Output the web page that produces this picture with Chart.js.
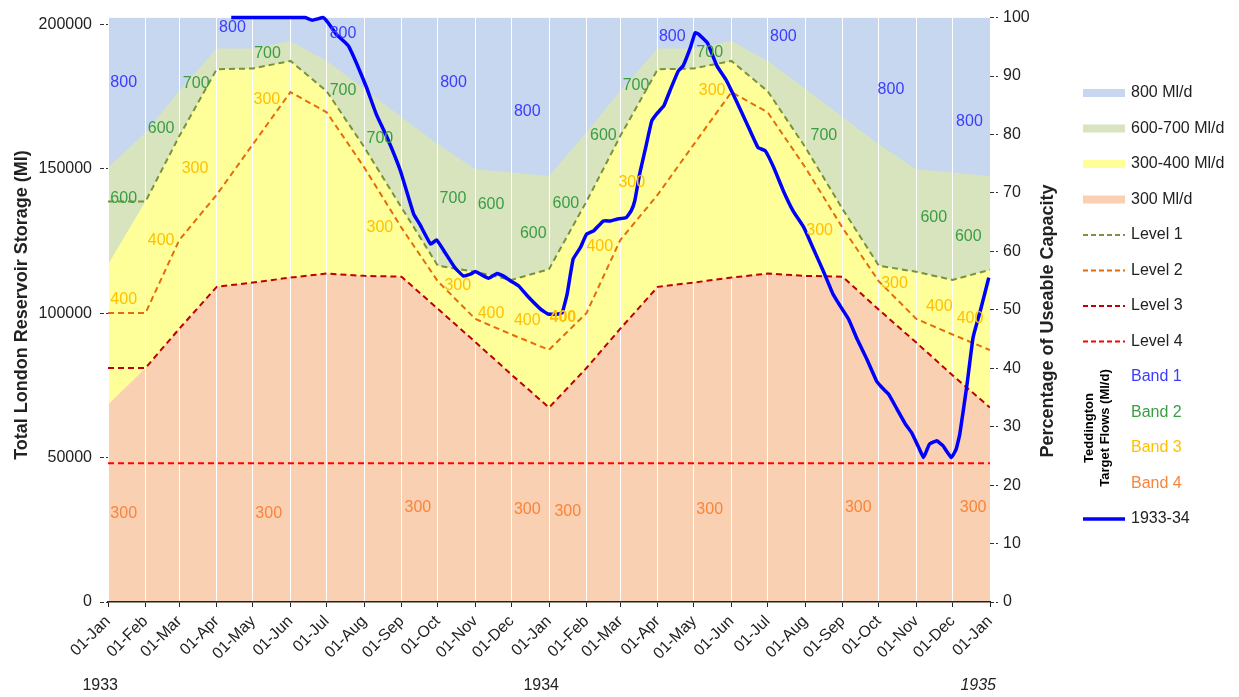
<!DOCTYPE html>
<html lang="en">
<head>
<meta charset="UTF-8">
<title>Total London Reservoir Storage 1933-34</title>
<script src="https://cdn.jsdelivr.net/npm/chart.js"></script>
<style>
  body { margin: 0; background: #fff; }
</style>
</head>
<body>
<canvas id="myChart" width="1239" height="697"></canvas>
<script>
// x axis = days since 01-Jan-1933
const monthDays = [0, 31, 59, 90, 120, 151, 181, 212, 243, 273, 304, 334,
                   365, 396, 424, 455, 485, 516, 546, 577, 608, 638, 669, 699, 730];
const monthLabels = ['01-Jan', '01-Feb', '01-Mar', '01-Apr', '01-May', '01-Jun', '01-Jul', '01-Aug',
                     '01-Sep', '01-Oct', '01-Nov', '01-Dec',
                     '01-Jan', '01-Feb', '01-Mar', '01-Apr', '01-May', '01-Jun', '01-Jul', '01-Aug',
                     '01-Sep', '01-Oct', '01-Nov', '01-Dec', '01-Jan'];
const yearDays = [0, 365, 730];
const yearLabels = ['1933', '1934', '1935'];
const storageTicks = [0, 50000, 100000, 150000, 200000];
const pctTicks = [0, 10, 20, 30, 40, 50, 60, 70, 80, 90, 100];
const capacityMl = 202300;

// flow band boundaries (Ml), one value per month start
const blueFloor = [150400, 162500, 177000, 191600, 191600, 194200, 187300, 177800, 167800, 158500, 149800, 148700,
                   147500, 162500, 177000, 191600, 191600, 194200, 187300, 177800, 167800, 158500, 149800, 148700, 147500];
const greenFloor = [116800, 138600, 161300, 184400, 184700, 187300, 176800, 157500, 136500, 116400, 114300, 111500,
                    115200, 138600, 161300, 184400, 184700, 187300, 176800, 157500, 136000, 116400, 114300, 111500, 115000];
const yellowFloor = [68300, 81000, 94600, 109100, 110600, 112300, 113700, 112900, 112600, 101500, 90000, 78700,
                     67300, 81000, 94600, 109100, 110600, 112300, 113700, 112900, 112600, 101200, 89800, 78500, 67300];

// control levels (Ml)
const level1 = [138600, 138600, 161300, 184400, 184700, 187300, 176800, 157500, 136500, 116400, 114300, 111500,
                115200, 138600, 161300, 184400, 184700, 187300, 176800, 157500, 136000, 116400, 114300, 111500, 115000];
const level2 = [100000, 100000, 125300, 141000, 158500, 176500, 169500, 150500, 129500, 111000, 98000, 92600,
                87300, 100000, 125300, 141000, 158500, 176500, 169500, 150500, 129500, 111000, 98000, 92600, 87200];
const level3 = [81000, 81000, 94600, 109100, 110600, 112300, 113700, 112900, 112600, 101500, 90000, 78700,
                67300, 81000, 94600, 109100, 110600, 112300, 113700, 112900, 112600, 101200, 89800, 78500, 67300];
const level4Days = [0, 730];
const level4 = [48000, 48000];

// 1933-34 storage (Ml)
const storageDays = [102, 163, 169, 178, 182, 189, 195, 199, 206, 214, 222, 231, 242, 253, 258, 267, 272, 278, 287, 294,
                     300, 304, 309, 315, 322, 327, 333, 340, 347, 358, 364, 373, 376, 380, 385, 391, 396, 402, 410, 416,
                     421, 429, 433, 436, 440, 445, 450, 454, 460, 465, 472, 476, 482, 486, 489, 496, 504, 512, 520, 529,
                     538, 544, 551, 559, 567, 576, 584, 592, 600, 606, 613, 620, 628, 636, 640, 646, 653, 660, 665, 671,
                     675, 678, 680, 686, 691, 698, 702, 705, 711, 716, 722, 729];
const storageMl = [202300, 202300, 201400, 202300, 200600, 196500, 194200, 192500, 186200, 178100,
                   168900, 160800, 149300, 134300, 130800, 123900, 125300, 121600, 115800, 112900,
                   113500, 114400, 113300, 112100, 113700, 112900, 111200, 109400, 106000, 101400,
                   99700, 99700, 100200, 106600, 118700, 122700, 127300, 128500, 131900, 131900,
                   132500, 133100, 135400, 138900, 148100, 157300, 166500, 168900, 171700, 176900,
                   183800, 185600, 191900, 197100, 196500, 193600, 185600, 180400, 173500, 165400,
                   157300, 156200, 150400, 142300, 135400, 129600, 122100, 114600, 106600, 102500,
                   97900, 91000, 84100, 76600, 74500, 72000, 66800, 61600, 58700, 53500,
                   50000, 52900, 54700, 55800, 54100, 50000, 52900, 58100, 75400, 91600, 100800, 112300];

// Teddington target flow labels: [day, Ml, text, bold]
const band1Labels = [[13, 179800, '800'], [103, 198700, '800'], [194.5, 196600, '800'], [286, 179800, '800'],
                     [347, 169700, '800'], [467, 195600, '800'], [559, 195600, '800'], [648, 177300, '800'],
                     [713, 166200, '800']];
const band2Labels = [[13, 139600, '600'], [44, 163800, '600'], [73, 179400, '700'], [132, 189800, '700'],
                     [194.5, 177000, '700'], [225, 160300, '700'], [285.5, 139600, '700'], [317, 137500, '600'],
                     [352, 127500, '600'], [379, 137800, '600'], [410, 161300, '600'], [437, 178700, '700'],
                     [498, 190100, '700'], [592.5, 161300, '700'], [683.5, 132900, '600'], [712, 126400, '600']];
const band3Labels = [[13, 104600, '400'], [44, 125000, '400'], [72, 150000, '300'], [131.5, 173800, '300'],
                     [225, 129500, '300'], [289.5, 109400, '300'], [317, 99700, '400'], [347, 97300, '400'],
                     [376.5, 98300, '400', true], [407, 122900, '400'], [433.5, 145100, '300'], [500, 176900, '300'],
                     [589, 128500, '300'], [651, 110100, '300'], [688, 102200, '400'], [713.5, 98000, '400']];
const band4Labels = [[13, 30600, '300'], [133, 30600, '300'], [256.5, 32600, '300'], [347, 31900, '300'],
                     [380.5, 31200, '300'], [498, 31900, '300'], [621, 32600, '300'], [716, 32600, '300']];

const FONT = '"Liberation Sans", Arial, sans-serif';
const TEXT = '#222222';
const C = {
    blue: '#C6D7EF', green: '#D7E4BD', yellow: '#FFFF99', peach: '#F9D0B2',
    l1: '#77933C', l2: '#E46C0A', l3: '#C00000', l4: '#FF0000',
    b1: '#3C3CFF', b2: '#3A9D44', b3: '#FFC000', b4: '#F9843A', storage: '#0000FF'
};

const pts = (xs, ys) => ys.map((v, i) => ({ x: xs[i], y: v }));

function area(data, color, order) {
    return { data, backgroundColor: color, borderWidth: 0, pointRadius: 0, fill: 'origin', order };
}
function level(data, color) {
    return { data, borderColor: color, borderWidth: 2, borderDash: [6, 4], pointRadius: 0, fill: false, order: 2 };
}

const bandLabelSets = [
    { labels: band1Labels, color: C.b1 },
    { labels: band2Labels, color: C.b2 },
    { labels: band3Labels, color: C.b3 },
    { labels: band4Labels, color: C.b4 }
];

const legendItems = [
    { kind: 'box', color: C.blue, text: '800 Ml/d' },
    { kind: 'box', color: C.green, text: '600-700 Ml/d' },
    { kind: 'box', color: C.yellow, text: '300-400 Ml/d' },
    { kind: 'box', color: C.peach, text: '300 Ml/d' },
    { kind: 'dash', color: C.l1, text: 'Level 1' },
    { kind: 'dash', color: C.l2, text: 'Level 2' },
    { kind: 'dash', color: C.l3, text: 'Level 3' },
    { kind: 'dash', color: C.l4, text: 'Level 4' },
    { kind: 'text', color: C.b1, text: 'Band 1' },
    { kind: 'text', color: C.b2, text: 'Band 2' },
    { kind: 'text', color: C.b3, text: 'Band 3' },
    { kind: 'text', color: C.b4, text: 'Band 4' },
    { kind: 'line', color: C.storage, text: '1933-34' }
];

function vText(ctx, str, x, y, font) {
    ctx.save();
    ctx.translate(x, y);
    ctx.rotate(-Math.PI / 2);
    ctx.font = font;
    ctx.textAlign = 'center';
    ctx.textBaseline = 'middle';
    ctx.fillText(str, 0, 0);
    ctx.restore();
}

const decor = {
    id: 'decor',
    afterDatasetsDraw(chart) {
        const { ctx, scales: { x, y } } = chart;
        ctx.save();
        ctx.textAlign = 'center';
        ctx.textBaseline = 'middle';
        bandLabelSets.forEach(set => {
            ctx.fillStyle = set.color;
            set.labels.forEach(l => {
                ctx.font = (l[3] ? 'bold ' : '') + '16px ' + FONT;
                ctx.fillText(l[2], x.getPixelForValue(l[0]), y.getPixelForValue(l[1]));
            });
        });
        ctx.restore();
    },
    afterDraw(chart) {
        const { ctx, scales: { x } } = chart;
        ctx.save();
        ctx.fillStyle = TEXT;
        // axis titles
        vText(ctx, 'Total London Reservoir Storage (Ml)', 22, 305, 'bold 18px ' + FONT);
        vText(ctx, 'Percentage of Useable Capacity', 1048, 321, 'bold 18px ' + FONT);

        // years under the date axis
        ctx.textAlign = 'right';
        ctx.textBaseline = 'middle';
        yearDays.forEach((d, i) => {
            ctx.font = (i === yearDays.length - 1 ? 'italic ' : '') + '16px ' + FONT;
            ctx.fillText(yearLabels[i], x.getPixelForValue(d) + (i === yearDays.length - 1 ? 6 : 10), 686);
        });

        // legend
        ctx.textAlign = 'left';
        ctx.font = '16px ' + FONT;
        legendItems.forEach((it, i) => {
            const ly = 93 + i * 35.5;
            if (it.kind === 'box') {
                ctx.fillStyle = it.color;
                ctx.fillRect(1083, ly - 4, 42, 8);
            } else if (it.kind === 'dash' || it.kind === 'line') {
                ctx.strokeStyle = it.color;
                ctx.lineWidth = it.kind === 'line' ? 3.5 : 2;
                ctx.setLineDash(it.kind === 'line' ? [] : [5, 3]);
                ctx.beginPath();
                ctx.moveTo(1083, ly);
                ctx.lineTo(1125, ly);
                ctx.stroke();
                ctx.setLineDash([]);
            }
            ctx.fillStyle = it.kind === 'text' ? it.color : TEXT;
            ctx.fillText(it.text, 1131, ly);
        });
        ctx.fillStyle = '#000';
        vText(ctx, 'Teddington', 1089, 428, 'bold 13px ' + FONT);
        vText(ctx, 'Target Flows (Ml/d)', 1105, 428, 'bold 13px ' + FONT);
        ctx.restore();
    }
};

const ctx = document.getElementById('myChart').getContext('2d');
new Chart(ctx, {
    type: 'line',
    data: {
        datasets: [
            area(pts([0, 730], [capacityMl, capacityMl]), C.blue, 10),
            area(pts(monthDays, blueFloor), C.green, 9),
            area(pts(monthDays, greenFloor), C.yellow, 8),
            area(pts(monthDays, yellowFloor), C.peach, 7),
            level(pts(monthDays, level1), C.l1),
            level(pts(monthDays, level2), C.l2),
            level(pts(monthDays, level3), C.l3),
            level(pts(level4Days, level4), C.l4),
            {
                data: pts(storageDays, storageMl),
                borderColor: C.storage, borderWidth: 3.5, pointRadius: 0,
                fill: false, tension: 0.1, clip: 4, order: 0
            }
        ]
    },
    options: {
        responsive: false,
        animation: false,
        devicePixelRatio: 1,
        layout: { padding: { top: 17, left: 0, right: 0, bottom: 0 } },
        plugins: {
            legend: { display: false },
            tooltip: { enabled: false },
            filler: { propagate: false, drawTime: 'beforeDraw' }
        },
        scales: {
            x: {
                type: 'linear', min: 0, max: 730,
                afterBuildTicks: s => { s.ticks = monthDays.map(v => ({ value: v })); },
                afterFit: s => { s.height = 95; },
                ticks: {
                    autoSkip: false, minRotation: 45, maxRotation: 45, padding: 5,
                    color: TEXT, font: { family: FONT, size: 16 },
                    callback: (v, i) => monthLabels[i]
                },
                grid: { color: '#FFFFFF', lineWidth: 1, tickColor: TEXT, tickLength: 5 },
                border: { display: true, color: TEXT, width: 1.5 }
            },
            y: {
                position: 'left', min: 0, max: capacityMl,
                afterBuildTicks: s => { s.ticks = storageTicks.map(v => ({ value: v })); },
                afterFit: s => { s.width = 108; },
                ticks: { padding: 8, color: TEXT, font: { family: FONT, size: 16 }, callback: v => String(v) },
                grid: { drawOnChartArea: false, tickLength: 8, tickColor: '#333', tickBorderDash: [4, 2] },
                border: { display: false }
            },
            pct: {
                position: 'right', min: 0, max: 100,
                afterBuildTicks: s => { s.ticks = pctTicks.map(v => ({ value: v })); },
                afterFit: s => { s.width = 249; },
                ticks: { padding: 5, color: TEXT, font: { family: FONT, size: 16 }, callback: v => String(v) },
                grid: { drawOnChartArea: false, tickLength: 8, tickColor: '#333', tickBorderDash: [4, 2] },
                border: { display: false }
            }
        }
    },
    plugins: [decor]
});
</script>
</body>
</html>
